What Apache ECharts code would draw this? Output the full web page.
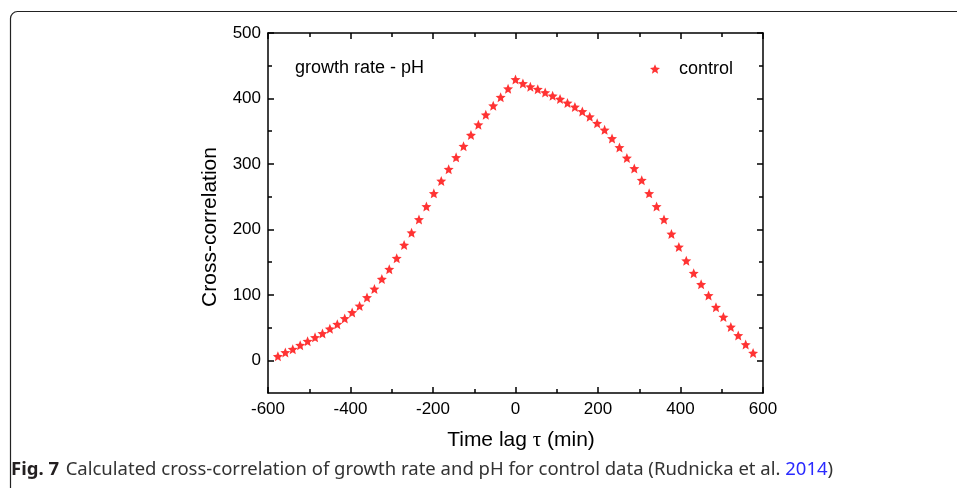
<!DOCTYPE html>
<html>
<head>
<meta charset="utf-8">
<script src="https://cdn.jsdelivr.net/npm/echarts@6/dist/echarts.min.js"></script>
<style>
  html, body { margin: 0; padding: 0; background: #fff; }
  #chart { width: 957px; height: 488px; }
</style>
</head>
<body>
<div id="chart"></div>
<script>
// time lag (min) of each point
var lagValues = [-576,-558,-540,-522,-504,-486,-468,-450,-432,-414,-396,-378,-360,-342,-324,-306,-288,-270,-252,-234,-216,-198,-180,-162,-144,-126,-108,-90,-72,-54,-36,-18,0,18,36,54,72,90,108,126,144,162,180,198,216,234,252,270,288,306,324,342,360,378,396,414,432,450,468,486,504,522,540,558,576];
// cross-correlation, control
var controlValues = [6,12,17,23,29,35,41,48,55,64,73,83,96,109,124,139,156,176,195,215,235,255,274,292,310,327,344,360,375,389,402,415,429,423,418,414,409,404,399,393,387,380,372,362,352,339,325,309,293,275,255,235,215,193,173,152,133,116,99,81,66,51,38,24,11];

var yLabels = [0, 100, 200, 300, 400, 500];
var yMinorTicks = [50, 150, 250, 350, 450];
var xMin = -600, xMax = 600, xStep = 200;
var yMin = -50, yMax = 500;

var seriesName = 'control';
var panelText = 'growth rate - pH';
var yTitle = 'Cross-correlation';

// fat five-point star, like the Origin marker
var starPath = 'path://M50 0 L63.23 31.8 L97.55 34.55 L71.4 56.95 L79.39 90.45 L50 72.5 L20.61 90.45 L28.6 56.95 L2.45 34.55 L36.77 31.8 Z';

var points = [];
lagValues.forEach(function (lag, i) {
    points.push([lag, controlValues[i]]);
});

var dom = document.getElementById('chart');
var myChart = echarts.init(dom, null, {renderer: 'canvas'});

var axisFont = 'Liberation Sans, Arial, sans-serif';
var lineStyle = {color: '#000', width: 1.5};

function xAxisOpt(pos, withLabel) {
    return {
        type: 'value',
        position: pos,
        min: xMin, max: xMax, interval: xStep,
        axisLine: {show: true, onZero: false, lineStyle: lineStyle},
        axisTick: {show: true, inside: true, length: 6, lineStyle: {color: '#000', width: 1.5}},
        minorTick: {show: true, splitNumber: 2, length: 4, lineStyle: {color: '#000', width: 1.5}},
        splitLine: {show: false},
        axisLabel: {show: withLabel, color: '#000', fontSize: 17, fontFamily: axisFont, margin: 8}
    };
}

function yAxisOpt(pos, withLabel) {
    return {
        type: 'value',
        position: pos,
        min: yMin, max: yMax,
        axisLine: {show: true, onZero: false, lineStyle: lineStyle},
        axisTick: {show: true, inside: true, length: 6, customValues: yLabels, lineStyle: {color: '#000', width: 1.5}},
        splitLine: {show: false},
        axisLabel: {show: withLabel, customValues: yLabels, color: '#000', fontSize: 17, fontFamily: axisFont, margin: 7}
    };
}

function yMinorOpt(pos) {
    return {
        type: 'value',
        position: pos,
        min: yMin, max: yMax,
        axisLine: {show: false, onZero: false},
        axisTick: {show: true, inside: true, length: 4, customValues: yMinorTicks, lineStyle: {color: '#000', width: 1.5}},
        splitLine: {show: false},
        axisLabel: {show: false}
    };
}

var option = {
    animation: false,
    backgroundColor: '#fff',
    grid: {left: 268, right: 194, top: 33, bottom: 95, containLabel: false},
    legend: {
        data: [seriesName],
        left: 645, top: 55,
        icon: starPath,
        itemWidth: 10, itemHeight: 10,
        itemGap: 0,
        textStyle: {color: '#000', fontSize: 18, fontFamily: axisFont, padding: [0, 0, 0, 14]}
    },
    xAxis: [xAxisOpt('bottom', true), xAxisOpt('top', false)],
    yAxis: [yAxisOpt('left', true), yAxisOpt('right', false), yMinorOpt('left'), yMinorOpt('right')],
    graphic: [
        {
            type: 'rect', left: 8, top: 9, z: -1,
            shape: {x: 0, y: 0, width: 1000, height: 520, r: 7},
            style: {fill: 'none', stroke: '#222', lineWidth: 1.2}
        },
        {
            type: 'text', left: 295, top: 59,
            style: {text: panelText, fill: '#000', fontSize: 18, fontFamily: axisFont}
        },
        {
            // y axis title, sits a bit below the axis middle as in the figure
            type: 'text', x: 210, y: 227, rotation: Math.PI / 2,
            style: {text: yTitle, fill: '#000', fontSize: 21, fontFamily: axisFont, align: 'center', verticalAlign: 'middle'}
        },
        {
            type: 'text', x: 521, y: 440,
            style: {
                text: '{a|Time lag }{t|\u03c4}{a| (min)}',
                align: 'center', verticalAlign: 'middle',
                rich: {
                    a: {fontSize: 21, fill: '#000', fontFamily: axisFont},
                    t: {fontSize: 21, fill: '#000', fontFamily: 'Liberation Serif, serif'}
                }
            }
        },
        {
            type: 'text', left: 11, top: 460,
            style: {
                text: '{b|Fig. 7}  {n|Calculated cross-correlation of growth rate and pH for control data (Rudnicka et al. }{l|2014}{n|)}',
                rich: {
                    b: {fontSize: 18.5, fontWeight: 'bold', fill: '#231f20', fontFamily: 'Noto Sans, sans-serif'},
                    n: {fontSize: 18.5, fill: '#333', fontFamily: 'Noto Sans, sans-serif'},
                    l: {fontSize: 18.5, fill: '#2a2aff', fontFamily: 'Noto Sans, sans-serif'}
                }
            }
        }
    ],
    series: [{
        name: seriesName,
        type: 'scatter',
        xAxisIndex: 0, yAxisIndex: 0,
        symbol: starPath,
        symbolSize: 10,
        itemStyle: {color: '#ff0000'},
        data: points
    }]
};

if (option && typeof option === 'object') {
    myChart.setOption(option, true);
}
</script>
</body>
</html>
